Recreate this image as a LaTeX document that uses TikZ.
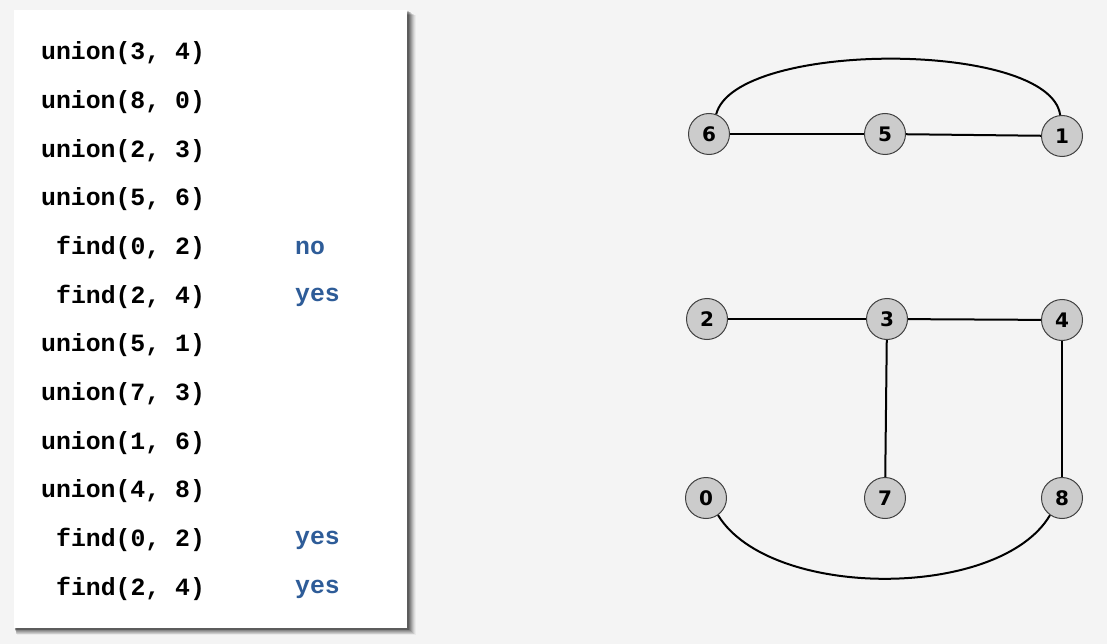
\documentclass[tikz,border=0pt]{standalone}
\usepackage{fontspec}
\newfontfamily\codefont{Liberation Mono}
\newfontfamily\numfont{DejaVu Sans}
\begin{document}
\begin{tikzpicture}[x=1pt,y=-1pt,
  code/.style={anchor=west,inner sep=0pt,font=\codefont\bfseries\fontsize{24.8}{26}\selectfont},
  ans/.style={anchor=west,inner sep=0pt,text=ansblue,font=\codefont\bfseries\fontsize{24.8}{26}\selectfont},
  vert/.style={circle,draw=black!75,line width=1pt,fill=black!20,minimum size=41pt,inner sep=0pt,font=\numfont\bfseries\fontsize{20}{22}\selectfont},
  edge/.style={line width=2pt,black}]
\definecolor{ansblue}{RGB}{46,92,152}
\definecolor{bg}{RGB}{244,244,244}
\useasboundingbox (0,0) rectangle (1107,644);
\fill[bg] (0,0) rectangle (1107,644);
% shadow of panel
\foreach \d/\o in {9/0.04,8/0.06,7/0.08,6/0.1,5/0.12,4/0.14,3/0.16,2/0.18}{
  \fill[black,opacity=\o] (14+\d*0.3,10+\d*0.6) rectangle (407+\d,628+\d*0.8);
}
\fill[white] (14,10) rectangle (407,628);
% code lines
\node[code] (l1) at (41,53) {union(3, 4)};
\node[code] (l2) at (41,102) {union(8, 0)};
\node[code] (l3) at (41,151) {union(2, 3)};
\node[code] (l4) at (41,199) {union(5, 6)};
\node[code] (l5) at (56,248) {find(0, 2)};
\node[code] (l6) at (56,297) {find(2, 4)};
\node[code] (l7) at (41,345) {union(5, 1)};
\node[code] (l8) at (41,394) {union(7, 3)};
\node[code] (l9) at (41,443) {union(1, 6)};
\node[code] (l10) at (41,491) {union(4, 8)};
\node[code] (l11) at (56,540) {find(0, 2)};
\node[code] (l12) at (56,589) {find(2, 4)};
\node[ans] (a5) at (295,248) {no};
\node[ans] (a6) at (295,297) {yes};
\node[ans] (a11) at (295,540) {yes};
\node[ans] (a12) at (295,589) {yes};
% graph
\node[vert] (n6) at (709,134) {6};
\node[vert] (n5) at (885,134) {5};
\node[vert] (n1) at (1062,136) {1};
\node[vert] (n2) at (707,319) {2};
\node[vert] (n3) at (887,319) {3};
\node[vert] (n4) at (1062,320) {4};
\node[vert] (n0) at (706,498) {0};
\node[vert] (n7) at (885,498) {7};
\node[vert] (n8) at (1062,498) {8};
\draw[edge] (n6) -- (n5);
\draw[edge] (n5) -- (n1);
\draw[edge] (n6.70) .. controls (735,40) and (1050,40) .. (n1.95);
\draw[edge] (n2) -- (n3);
\draw[edge] (n3) -- (n4);
\draw[edge] (n3) -- (n7);
\draw[edge] (n4) -- (n8);
\draw[edge] (n0.-55) .. controls (770,600) and (1000,600) .. (n8.-125);
\end{tikzpicture}
\end{document}
